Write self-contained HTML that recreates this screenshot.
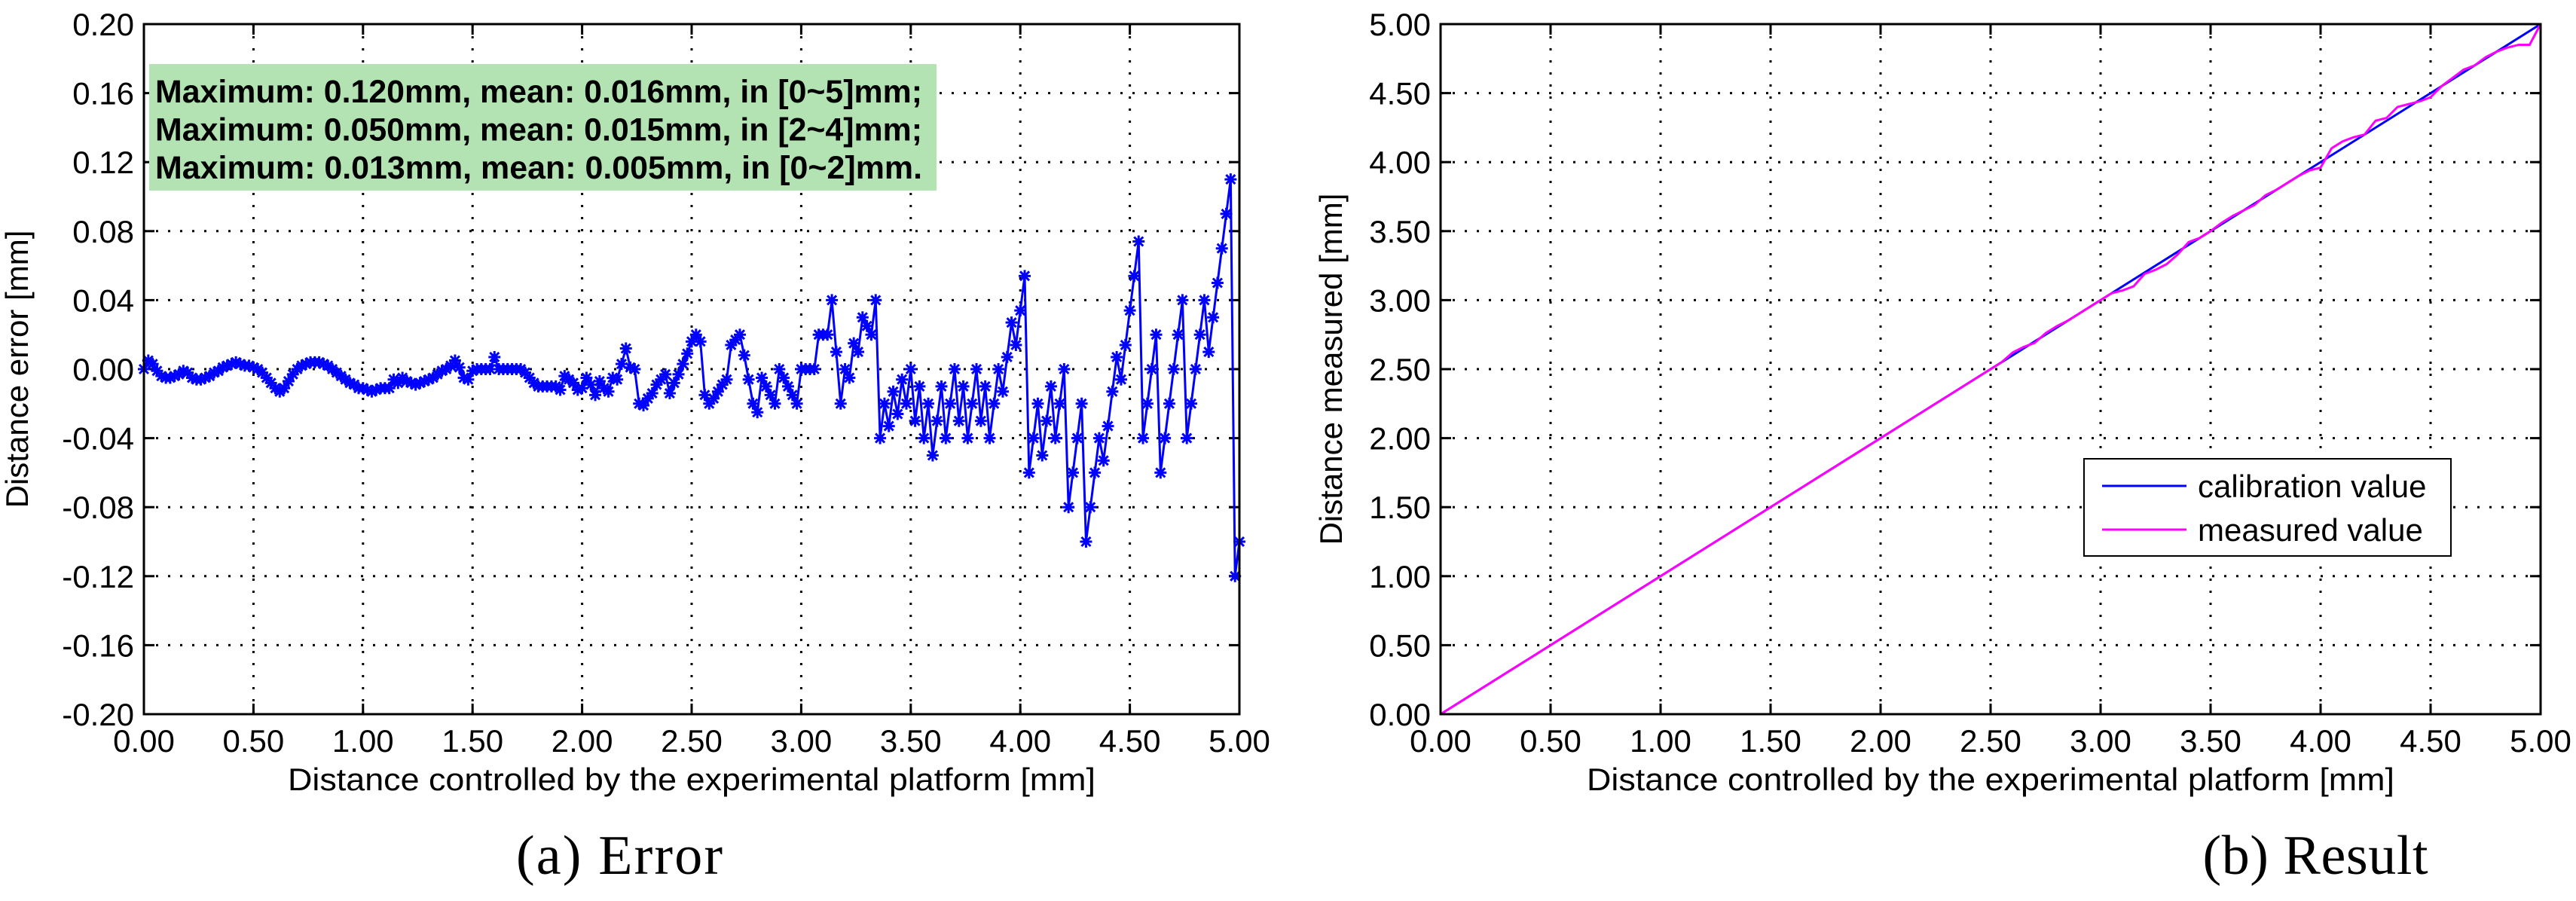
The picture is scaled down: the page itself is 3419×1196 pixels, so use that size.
<!DOCTYPE html>
<html><head><meta charset="utf-8"><style>
html,body{margin:0;padding:0;background:#fff;}
svg{display:block;font-family:"Liberation Sans",Arial,sans-serif;}
</style></head><body>
<svg id="fig" width="3419" height="1196" viewBox="0 0 3419 1196" xmlns="http://www.w3.org/2000/svg">
<g id="left"></g>
<g id="right"></g>
</svg>
<script>
// ---- Error chart data (units: 0.001 mm), sampled every 0.02 mm from 0 to 5 ----
const errStep = 0.02;
const errValues = [
0,5,3,-1,-4,-5,-5,-4,-3,-1,
-2,-5,-6,-6,-5,-4,-2,-1,1,2,
3,4,3,2,2,1,0,-2,-5,-8,
-11,-13,-11,-7,-3,0,2,3,4,4,
4,3,2,0,-2,-4,-6,-8,-9,-11,
-11,-12,-13,-12,-11,-11,-11,-6,-8,-5,
-7,-8,-9,-8,-7,-6,-5,-3,-1,0,
2,5,1,-5,-6,-1,0,0,0,0,
7,0,0,0,0,0,0,-2,-5,-8,
-10,-10,-10,-10,-10,-12,-4,-6,-8,-12,
-11,-5,-9,-15,-7,-11,-13,-5,-6,3,
12,1,0,-20,-21,-17,-14,-9,-6,-3,
-14,-8,-3,3,9,16,20,16,-15,-20,
-17,-13,-9,-6,14,17,20,8,-6,-20,
-25,-5,-10,-15,-20,0,-5,-10,-15,-20,
0,0,0,0,20,20,20,40,10,-20,
0,-5,15,10,30,25,20,40,-40,-20,
-33,-13,-26,-6,-20,0,-30,-10,-40,-20,
-50,-30,-10,-40,-20,0,-30,-10,-40,-20,
0,-30,-10,-40,-20,0,-13,7,27,14,
34,54,-60,-40,-20,-50,-30,-10,-40,-20,
0,-80,-60,-40,-20,-100,-80,-60,-40,-53,
-33,-13,7,-6,14,34,54,74,-40,-20,
0,20,-60,-40,-20,0,20,40,-40,-20,
0,20,40,10,30,50,70,90,110,-120,
-100];
const errXTicks = ["0.00","0.50","1.00","1.50","2.00","2.50","3.00","3.50","4.00","4.50","5.00"];
const errYTicks = ["-0.20","-0.16","-0.12","-0.08","-0.04","0.00","0.04","0.08","0.12","0.16","0.20"];
const noteLines = ["Maximum: 0.120mm, mean: 0.016mm, in [0~5]mm;","Maximum: 0.050mm, mean: 0.015mm, in [2~4]mm;","Maximum: 0.013mm, mean: 0.005mm, in [0~2]mm."];

// ---- Result chart data ----
const calibX = [0, 5];
const calibY = [0, 5];
const measStep = 0.05;
const measValues = [
0,0.05,0.10,0.15,0.20,0.25,0.30,0.35,0.40,0.45,
0.50,0.55,0.60,0.65,0.70,0.75,0.80,0.85,0.90,0.95,
1.00,1.05,1.10,1.15,1.20,1.25,1.30,1.35,1.40,1.45,
1.50,1.55,1.60,1.65,1.70,1.75,1.80,1.85,1.90,1.95,
2.00,2.05,2.10,2.15,2.20,2.25,2.30,2.35,2.40,2.45,
2.50,2.55,2.62,2.66,2.69,2.76,2.81,2.85,2.90,2.95,
3.00,3.05,3.07,3.10,3.19,3.22,3.26,3.33,3.42,3.45,
3.50,3.56,3.61,3.65,3.69,3.76,3.80,3.85,3.90,3.94,
3.96,4.10,4.15,4.18,4.20,4.30,4.32,4.40,4.42,4.44,
4.47,4.55,4.61,4.67,4.70,4.76,4.80,4.83,4.85,4.85,
5.00];
const resXTicks = ["0.00","0.50","1.00","1.50","2.00","2.50","3.00","3.50","4.00","4.50","5.00"];
const resYTicks = ["0.00","0.50","1.00","1.50","2.00","2.50","3.00","3.50","4.00","4.50","5.00"];
const legendLabels = ["calibration value","measured value"];

const NS = "http://www.w3.org/2000/svg";
function mk(tag, attrs, parent){const e=document.createElementNS(NS,tag);for(const k in attrs)e.setAttribute(k,attrs[k]);parent.appendChild(e);return e;}

function drawAxes(g, box, xTicks, yTicks, xmin, xmax, ymin, ymax, ylabel, ylabelX, caption, capX, capW){
  const sx=v=>box.x0+(v-xmin)/(xmax-xmin)*(box.x1-box.x0);
  const sy=v=>box.y1-(v-ymin)/(ymax-ymin)*(box.y1-box.y0);
  mk('rect',{x:box.x0,y:box.y0,width:box.x1-box.x0,height:box.y1-box.y0,fill:'#fff'},g);
  xTicks.forEach((t,i)=>{
    const x=sx(parseFloat(t));
    if(i>0&&i<xTicks.length-1){
      const gl=mk('line',{x1:x,x2:x,y1:box.y0,y2:box.y1,stroke:'#000','stroke-width':3,'stroke-dasharray':'3 13'},g);
      
      
      mk('line',{x1:x,x2:x,y1:box.y1,y2:box.y1-14,stroke:'#000','stroke-width':3},g);
      mk('line',{x1:x,x2:x,y1:box.y0,y2:box.y0+14,stroke:'#000','stroke-width':3},g);
    }
    const tl=mk('text',{x:x,y:998,'font-size':42,'text-anchor':'middle',fill:'#000'},g);
    tl.textContent=t;
    
    
  });
  yTicks.forEach((t,i)=>{
    const y=sy(parseFloat(t));
    if(i>0&&i<yTicks.length-1){
      const gl=mk('line',{x1:box.x0,x2:box.x1,y1:y,y2:y,stroke:'#000','stroke-width':3,'stroke-dasharray':'3 13'},g);
      
      
      mk('line',{x1:box.x0,x2:box.x0+14,y1:y,y2:y,stroke:'#000','stroke-width':3},g);
      mk('line',{x1:box.x1,x2:box.x1-14,y1:y,y2:y,stroke:'#000','stroke-width':3},g);
    }
    const tl=mk('text',{x:box.x0-13,y:y+15,'font-size':42,'text-anchor':'end',fill:'#000'},g);
    tl.textContent=t;
    
    
  });
  const xl=mk('text',{x:(box.x0+box.x1)/2,y:1049,'font-size':42,'text-anchor':'middle',textLength:1072,lengthAdjust:'spacingAndGlyphs'},g);
  xl.textContent='Distance controlled by the experimental platform [mm]';
  
  
  const yc=490;
  const yl=mk('text',{x:0,y:0,'font-size':42,'text-anchor':'middle',transform:`translate(${ylabelX+15},${yc}) rotate(-90)`},g);
  yl.textContent=ylabel;
  
  
  const cp=mk('text',{x:capX,y:1160,'font-size':74,'text-anchor':'middle','font-family':'"Liberation Serif",serif',textLength:capW,lengthAdjust:'spacing'},g);
  cp.textContent=caption;
  
  
  return {sx,sy};
}
function frame(g,box){
  const f=mk('rect',{x:box.x0,y:box.y0,width:box.x1-box.x0,height:box.y1-box.y0,fill:'none',stroke:'#000','stroke-width':3},g);
  
  
}

// ---- Left chart ----
const gL=document.getElementById('left');
const boxL={x0:191,x1:1645,y0:32,y1:948};
const axL=drawAxes(gL,boxL,errXTicks,errYTicks,0,5,-0.2,0.2,'Distance error [mm]',22,'(a) Error',822,274);
const pts=errValues.map((v,i)=>[axL.sx(i*errStep),axL.sy(v/1000)]);
const errLine=mk('polyline',{points:pts.map(p=>p.join(',')).join(' '),fill:'none',stroke:'#0000ff','stroke-width':3,'stroke-linejoin':'round'},gL);


const mg=mk('g',{stroke:'#0000ff','stroke-width':3},gL);


pts.forEach(p=>{
  const r=8,d=6;
  const m=mk('path',{d:`M${p[0]-r},${p[1]}H${p[0]+r}M${p[0]},${p[1]-r}V${p[1]+r}M${p[0]-d},${p[1]-d}L${p[0]+d},${p[1]+d}M${p[0]-d},${p[1]+d}L${p[0]+d},${p[1]-d}`},mg);
  
  
});
const note=mk('g',{},gL);


mk('rect',{x:198,y:85,width:1045,height:168,fill:'#b3e3b3'},note);
noteLines.forEach((t,i)=>{
  const tx=mk('text',{x:206,y:136+i*50.5,'font-size':43,'font-weight':'bold',textLength:1018,lengthAdjust:'spacingAndGlyphs'},note);
  tx.textContent=t;
  
  
});
frame(gL,boxL);

// ---- Right chart ----
const gR=document.getElementById('right');
const boxR={x0:1912,x1:3372,y0:32,y1:948};
const axR=drawAxes(gR,boxR,resXTicks,resYTicks,0,5,0,5,'Distance measured [mm]',1766,'(b) Result',3073,299);
const cal=mk('polyline',{points:calibX.map((x,i)=>axR.sx(x)+','+axR.sy(calibY[i])).join(' '),fill:'none',stroke:'#0000ff','stroke-width':3},gR);


const meas=mk('polyline',{points:measValues.map((v,i)=>axR.sx(i*measStep)+','+axR.sy(v)).join(' '),fill:'none',stroke:'#ff00ff','stroke-width':3},gR);


frame(gR,boxR);
const lg=mk('g',{},gR);


mk('rect',{x:2766,y:609,width:487,height:129,fill:'#fff',stroke:'#000','stroke-width':2},lg);
const lcol=['#0000ff','#ff00ff'];
legendLabels.forEach((t,i)=>{
  const y=645+i*58;
  const ln=mk('line',{x1:2790,x2:2902,y1:y,y2:y,stroke:lcol[i],'stroke-width':3},lg);
  
  
  const tx=mk('text',{x:2917,y:y+15,'font-size':42},lg);
  tx.textContent=t;
  
  
});
</script>
</body></html>
